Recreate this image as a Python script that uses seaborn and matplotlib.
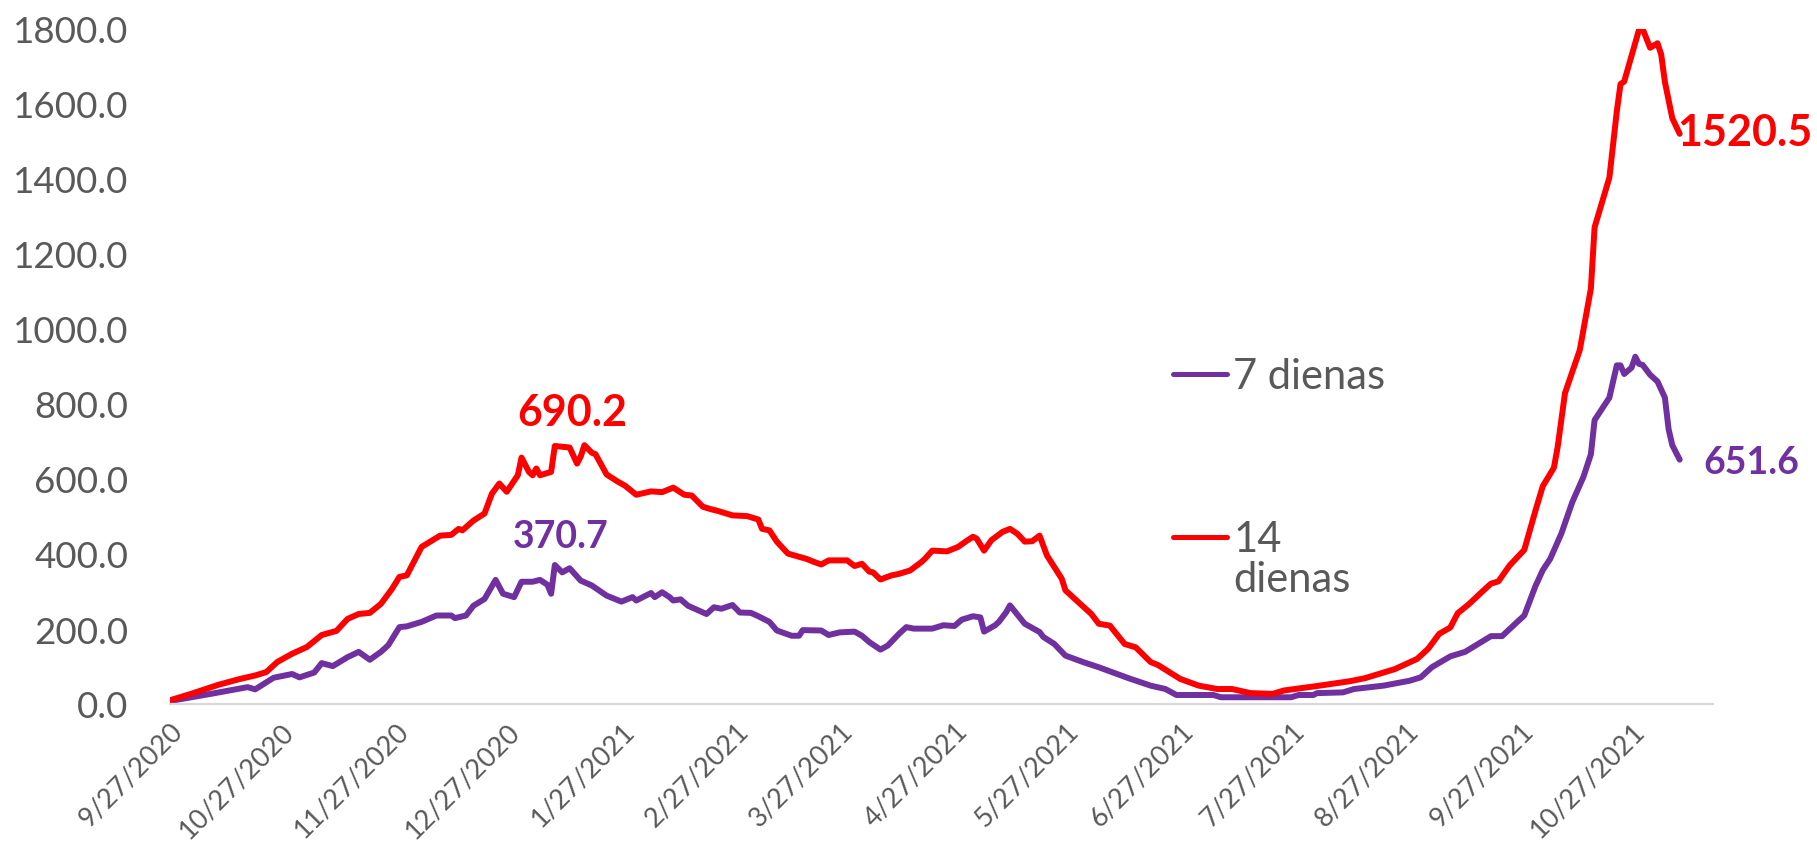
import pandas as pd
import numpy as np
import matplotlib
matplotlib.use("Agg")
import matplotlib.pyplot as plt
from matplotlib.ticker import FuncFormatter
import seaborn as sns

start = pd.Timestamp("2020-09-27")

# 7 dienas (days since 2020-09-27, value)
days_7 = [0, 11, 21, 23, 28, 33, 35, 39, 41, 44,
          48, 51, 54, 57, 59, 62, 64, 68, 72, 76,
          77, 80, 82, 85, 88, 90, 93, 95, 98, 100,
          102, 103, 104, 106, 108, 111, 114, 118, 122, 125,
          126, 130, 131, 133, 135, 136, 138, 140, 145, 147,
          149, 152, 154, 157, 159, 162, 164, 168, 170, 171,
          176, 178, 181, 185, 187, 189, 192, 194, 197, 199,
          201, 206, 209, 212, 214, 217, 219, 220, 223, 224,
          226, 227, 231, 235, 236, 239, 242, 247, 251, 259,
          265, 269, 272, 282, 284, 303, 305, 309, 310, 317,
          320, 328, 335, 338, 341, 346, 350, 354, 357, 360,
          364, 366, 369, 371, 373, 376, 379, 382, 384, 385,
          389, 391, 392, 393, 395, 396, 397, 398, 400, 402,
          404, 405, 406, 408]
vals_7 = [8, 27, 45, 39, 70, 80, 71, 84, 109, 101,
          125, 139, 118, 139, 157, 205, 207, 219, 236, 236,
          229, 236, 262, 280, 331, 294, 285, 326, 326, 331,
          318, 294, 370.7, 351, 362, 329, 316, 289, 273, 285,
          276, 296, 285, 298, 285, 276, 279, 262, 240, 258,
          254, 264, 244, 243, 234, 219, 196, 182, 182, 197,
          196, 184, 191, 193, 182, 165, 145, 156, 187, 205,
          201, 201, 210, 208, 225, 234, 231, 193, 210, 219,
          245, 263, 214, 192, 179, 160, 129, 111, 98, 69,
          49, 40, 24, 24, 18, 18, 24, 24, 29, 31,
          40, 49, 62, 71, 98, 127, 139, 163, 181, 181,
          218, 236, 314, 357, 387, 454, 539, 606, 666, 757,
          817, 903, 903, 880, 897, 926, 907, 904, 878, 860,
          817, 733, 690, 651.6]

# 14 dienas
days_14 = [0, 6, 13, 19, 23, 26, 29, 33, 37, 41,
           45, 48, 51, 54, 57, 60, 62, 64, 68, 73,
           76, 78, 79, 82, 85, 87, 89, 91, 94, 95,
           97, 98, 99, 100, 103, 104, 106, 108, 110, 111,
           112, 114, 115, 118, 121, 123, 126, 130, 133, 136,
           139, 141, 144, 146, 148, 152, 156, 159, 160, 162,
           164, 167, 172, 174, 176, 178, 183, 185, 187, 189,
           190, 192, 195, 197, 200, 203, 204, 206, 210, 213,
           215, 217, 218, 220, 222, 225, 227, 229, 231, 233,
           235, 237, 241, 242, 245, 249, 251, 254, 258, 261,
           265, 267, 273, 278, 283, 287, 292, 298, 301, 310,
           319, 323, 331, 337, 340, 343, 346, 348, 351, 355,
           357, 359, 362, 366, 369, 371, 374, 375, 377, 381,
           384, 385, 389, 391, 392, 393, 397, 398, 400, 402,
           403, 404, 406, 408]
vals_14 = [10, 28, 51, 67, 76, 85, 112, 134, 152, 184,
           195, 227, 240, 243, 267, 307, 339, 343, 419, 449,
           451, 467, 463, 489, 508, 561, 588, 566, 610, 657,
           619, 610, 628, 610, 619, 688, 686, 684, 641, 660,
           690.2, 670, 666, 612, 593, 582, 558, 567, 565, 577,
           558, 556, 526, 520, 515, 503, 501, 492, 467, 463,
           433, 401, 387, 379, 372, 383, 383, 368, 374, 353,
           351, 332, 343, 347, 356, 378, 387, 409, 407, 419,
           433, 446, 441, 409, 437, 459, 467, 454, 433, 434,
           449, 396, 334, 303, 276, 240, 214, 209, 160, 151,
           112, 104, 67, 49, 40, 40, 29, 27, 36, 48,
           61, 69, 93, 120, 147, 187, 204, 242, 266, 303,
           321, 327, 369, 411, 515, 581, 630, 684, 829, 944,
           1108, 1271, 1404, 1580, 1653, 1660, 1798, 1800, 1750, 1762,
           1732, 1659, 1562, 1520.5]

tick_labels = ["9/27/2020", "10/27/2020", "11/27/2020", "12/27/2020",
               "1/27/2021", "2/27/2021", "3/27/2021", "4/27/2021",
               "5/27/2021", "6/27/2021", "7/27/2021", "8/27/2021",
               "9/27/2021", "10/27/2021"]

purple = "#7030A0"
red = "#FF0000"
gray = "#595959"

df7 = pd.DataFrame({"date": start + pd.to_timedelta(days_7, unit="D"), "val": vals_7})
df14 = pd.DataFrame({"date": start + pd.to_timedelta(days_14, unit="D"), "val": vals_14})

sns.set_style("white")
plt.rcParams["font.family"] = ["Lato", "DejaVu Sans"]

fig = plt.figure(figsize=(18.17, 8.54), dpi=100)
ax = fig.add_axes([170 / 1817, 1 - 705 / 854, 1543 / 1817, 675 / 854])

sns.lineplot(data=df7, x="date", y="val", ax=ax, color=purple, linewidth=4.3,
             label="7 dienas", solid_joinstyle="round", solid_capstyle="round")
sns.lineplot(data=df14, x="date", y="val", ax=ax, color=red, linewidth=4.3,
             label="14", solid_joinstyle="round", solid_capstyle="round")

ax.set_ylim(0, 1800)
ax.set_xlim(start, start + pd.Timedelta(days=417))
ax.set_yticks(np.arange(0, 1801, 200))
ax.yaxis.set_major_formatter(FuncFormatter(lambda v, p: f"{v:.1f}"))
ticks = pd.to_datetime(tick_labels, format="%m/%d/%Y")
ax.set_xticks(ticks)
ax.set_xticklabels(tick_labels)
ax.set_xlabel("")
ax.set_ylabel("")

for s in ["left", "top", "right"]:
    ax.spines[s].set_visible(False)
ax.spines["bottom"].set_color("#d9d9d9")
ax.spines["bottom"].set_linewidth(1.6)
ax.tick_params(axis="x", colors="#d9d9d9", length=7, width=1.6, direction="out",
               pad=3, labelsize=19.5, labelcolor=gray)
ax.tick_params(axis="y", length=0, pad=30, labelsize=26.5, labelcolor=gray)
plt.setp(ax.get_xticklabels(), rotation=45, ha="right", rotation_mode="anchor")

leg = ax.legend(loc="center left", bbox_to_anchor=(0.650, 0.365), frameon=False,
                fontsize=30, labelcolor=gray, handlelength=1.3, handletextpad=0.15,
                labelspacing=3.0, borderaxespad=0, borderpad=0)
for h in leg.get_lines():
    h.set_linewidth(3.6)
ax.annotate("dienas", xy=(0, 0), xycoords=leg.get_texts()[1], xytext=(0, -1),
            textcoords="offset points", ha="left", va="top", fontsize=30,
            color=gray, zorder=6)

# value labels
ax.annotate("690.2", xy=(df14["date"][40], 690.2), xytext=(-9, 24),
            textcoords="offset points", ha="center", va="center",
            fontsize=31, fontweight="bold", color=red)
ax.annotate("370.7", xy=(df7["date"][32], 370.7), xytext=(4, 21),
            textcoords="offset points", ha="center", va="center",
            fontsize=27, fontweight="bold", color=purple)
ax.annotate("1520.5", xy=(df14["date"].iloc[-1], 1520.5), xytext=(-2, 1),
            textcoords="offset points", ha="left", va="center",
            fontsize=31, fontweight="bold", color=red, annotation_clip=False)
ax.annotate("651.6", xy=(df7["date"].iloc[-1], 651.6), xytext=(17, -1.5),
            textcoords="offset points", ha="left", va="center",
            fontsize=27, fontweight="bold", color=purple, annotation_clip=False)

fig.savefig("out.png", dpi=100, facecolor="white")
